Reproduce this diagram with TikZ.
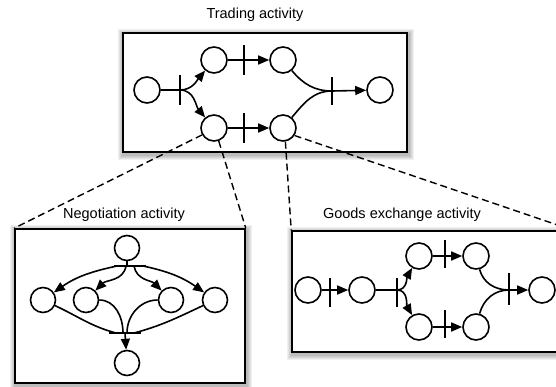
\documentclass[tikz,border=0pt]{standalone}
\usepackage{fontspec}
\setmainfont{Liberation Sans}
\usetikzlibrary{arrows.meta}
\pgfdeclarelayer{bg}
\pgfsetlayers{bg,main}
\newcommand\boxshadow[1]{%
  \foreach \i in {1,...,5}{%
    \fill[black,opacity=0.06] ([shift={(1-\i,\i-2)}]#1.north west) rectangle ([shift={(1+\i,-2-\i)}]#1.south east);}}
\begin{document}
\begin{tikzpicture}[x=1pt,y=1pt,
  place/.style={circle,draw,line width=1.6pt,minimum size=26pt,inner sep=0pt,fill=white},
  vbar/.style={fill=black,minimum width=2.4pt,minimum height=30pt,inner sep=0pt},
  hbar/.style={fill=black,minimum width=32pt,minimum height=2.2pt,inner sep=0pt},
  arc/.style={line width=1.6pt},
  tip/.style={arc,-{Triangle[length=11pt,width=9pt]}},
  box/.style={draw,line width=1.6pt,fill=white,inner sep=0pt},
  title/.style={font=\fontsize{14.5}{17}\selectfont},
  link/.style={line width=1.4pt,dash pattern=on 7pt off 4pt}]
\useasboundingbox (0,0) rectangle (556,-386);
\clip (0,0) rectangle (556,-386);

% boxes
\node[box,minimum width=284pt,minimum height=119pt] (topbox) at (265,-92.5) {};
\node[box,minimum width=230pt,minimum height=154pt] (negbox) at (130,-306) {};
\node[box,minimum width=280pt,minimum height=121pt] (goodsbox) at (432,-291.5) {};
\begin{pgfonlayer}{bg}
  \boxshadow{topbox}
  \boxshadow{negbox}
  \boxshadow{goodsbox}
\end{pgfonlayer}

% titles
\node[title] (ttop) at (255,-15) {Trading activity};
\node[title] (tneg) at (124,-215) {Negotiation activity};
\node[title] (tgoods) at (402,-215) {Goods exchange activity};

% trading net
\node[place] (tA) at (147,-90) {};
\node[place] (tB1) at (214,-60) {};
\node[place] (tB2) at (283,-60) {};
\node[place] (tC1) at (214,-128) {};
\node[place] (tC2) at (283,-128) {};
\node[place] (tD) at (380,-90) {};
\node[vbar] (T1) at (180,-90) {};
\node[vbar] (T2) at (244,-60) {};
\node[vbar] (T3) at (244,-128) {};
\node[vbar,minimum height=28pt] (T4) at (332,-91) {};
\draw[arc] (tA) -- (T1.center);
\draw[tip] (T1.center) to[out=0,in=-130] (tB1);
\draw[tip] (T1.center) to[out=0,in=130] (tC1);
\draw[arc] (tB1) -- (T2.center);
\draw[tip] (T2.center) -- (tB2);
\draw[arc] (tC1) -- (T3.center);
\draw[tip] (T3.center) -- (tC2);
\draw[arc] (tB2) to[out=-50,in=180] (T4.center);
\draw[arc] (tC2) to[out=50,in=180] (T4.center);
\draw[tip] (T4.center) -- (tD);

% negotiation net
\node[place,minimum size=25pt] (nT) at (127,-248) {};
\node[place,minimum size=25pt] (nM1) at (43,-300) {};
\node[place,minimum size=25pt] (nM2) at (86,-300) {};
\node[place,minimum size=25pt] (nM3) at (171,-300) {};
\node[place,minimum size=25pt] (nM4) at (215,-300) {};
\node[place,minimum size=25pt] (nB) at (127,-363) {};
\node[hbar] (N1) at (130,-266) {};
\node[hbar] (N2) at (125,-333) {};
\draw[arc] (nT.south) -- (nT.south |- N1.center);
\draw[tip] ([xshift=-13pt]N1.center) to[out=192,in=35] (nM1);
\draw[tip] ([xshift=-4pt]N1.center) to[out=-100,in=45] (nM2);
\draw[tip] ([xshift=4pt]N1.center) to[out=-80,in=135] (nM3);
\draw[tip] ([xshift=13pt]N1.center) to[out=-12,in=145] (nM4);
\draw[arc] (nM1) to[out=-25,in=165] ([xshift=-9pt]N2.center);
\draw[arc] (nM2) to[out=0,in=90] ([xshift=-2pt]N2.center);
\draw[arc] (nM3) to[out=180,in=90] ([xshift=2pt]N2.center);
\draw[arc] (nM4) to[out=-155,in=15] ([xshift=9pt]N2.center);
\draw[tip] (N2.center) -- (nB);

% goods exchange net
\node[place] (g1) at (308,-290) {};
\node[place] (g2) at (362,-290) {};
\node[place] (g3) at (419,-256) {};
\node[place] (g4) at (476,-256) {};
\node[place] (g5) at (419,-327) {};
\node[place] (g6) at (476,-327) {};
\node[place] (g7) at (542,-290) {};
\node[vbar,minimum height=29pt] (G1) at (330,-292) {};
\node[vbar,minimum height=29pt] (G2) at (397,-292) {};
\node[vbar,minimum height=28pt] (G3) at (445,-254) {};
\node[vbar,minimum height=28pt] (G4) at (445,-324) {};
\node[vbar,minimum height=32pt] (G5) at (509,-289) {};
\draw[arc] (g1) -- (G1.center |- g1);
\draw[tip] (G1.center |- g1) -- (g2);
\draw[arc] (g2) -- (G2.center |- g2);
\draw[tip] (G2.center |- g2) to[out=0,in=-120] (g3);
\draw[tip] (G2.center |- g2) to[out=0,in=120] (g5);
\draw[arc] (g3) -- (G3.center |- g3);
\draw[tip] (G3.center |- g3) -- (g4);
\draw[arc] (g5) -- (G4.center |- g5);
\draw[tip] (G4.center |- g5) -- (g6);
\draw[arc] (g4) to[out=-75,in=180] (G5.center |- g7);
\draw[arc] (g6) to[out=75,in=180] (G5.center |- g7);
\draw[tip] (G5.center |- g7) -- (g7);

% links
\draw[link] (tC1.210) -- (negbox.north west);
\draw[link] (tC1.-70) -- (negbox.north east);
\draw[link] (tC2.-80) -- (goodsbox.north west);
\draw[link] (tC2.-33) -- (goodsbox.north east);
\end{tikzpicture}
\end{document}
